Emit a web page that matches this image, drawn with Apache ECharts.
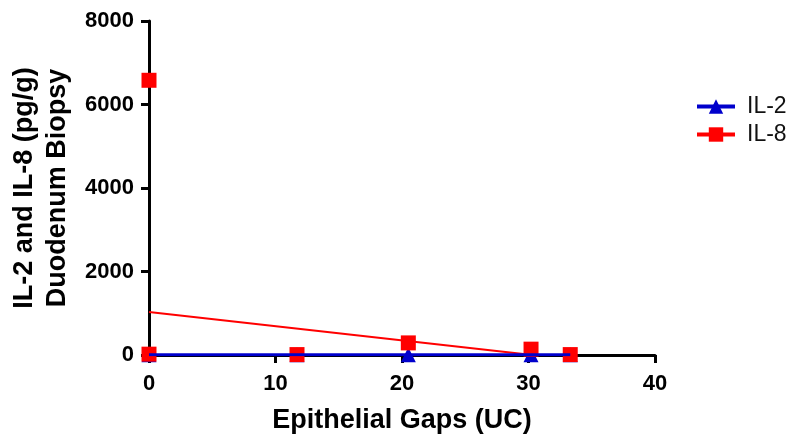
<!DOCTYPE html>
<html><head><meta charset="utf-8">
<script src="https://cdn.jsdelivr.net/npm/echarts@6/dist/echarts.min.js"></script>
<style>html,body{margin:0;padding:0;background:#fff}#c{width:789px;height:442px}</style>
</head><body><div id="c"></div>
<script>
const il2Points = [[0, 5], [11.7, 5], [20.5, 5], [30.2, 5], [33.3, 5]];
const il8Points = [[0, 6580], [0, 20], [11.7, 10], [20.5, 290], [30.2, 140], [33.3, 10]];
const il2Fit = [[0, 5], [33.3, 5]];
const il8Fit = [[0, 1030], [30.3, 0]];
const xTicks = [0, 10, 20, 30, 40];
const yTicks = [0, 2000, 4000, 6000, 8000];

const font = 'Liberation Sans, Arial, sans-serif';
const chart = echarts.init(document.getElementById('c'));
chart.setOption({
  animation: false,
  grid: { left: 148, right: 134, top: 21, bottom: 87 },
  legend: {
    data: ['IL-2', 'IL-8'], orient: 'vertical', left: 690, top: 90,
    itemWidth: 38, itemHeight: 18, itemGap: 5,
    lineStyle: { width: 4 },
    textStyle: { fontFamily: font, fontSize: 23, color: '#111', padding: [0, 0, 0, 7], lineHeight: 23 }
  },
  xAxis: {
    type: 'value', min: xTicks[0], max: xTicks[xTicks.length - 1], interval: 10,
    name: 'Epithelial Gaps (UC)', nameLocation: 'middle', nameGap: 52,
    nameTextStyle: { fontFamily: font, fontSize: 27, fontWeight: 'bold', color: '#000' },
    axisLine: { onZero: false, lineStyle: { color: '#000', width: 3 } },
    axisTick: { length: 8, lineStyle: { width: 3, color: '#000' } },
    axisLabel: { fontFamily: font, fontSize: 22, fontWeight: 'bold', color: '#000', margin: 18,
      formatter: v => String(v) },
    splitLine: { show: false }
  },
  yAxis: {
    type: 'value', min: yTicks[0], max: yTicks[yTicks.length - 1], interval: 2000,
    name: 'IL-2 and IL-8 (pg/g)\nDuodenum Biopsy', nameLocation: 'middle', nameGap: 75, nameRotate: 90,
    nameTextStyle: { fontFamily: font, fontSize: 27, fontWeight: 'bold', color: '#000', lineHeight: 33 },
    axisLine: { show: true, lineStyle: { color: '#000', width: 3 } },
    axisTick: { show: true, length: 8, lineStyle: { width: 3, color: '#000' } },
    axisLabel: { fontFamily: font, fontSize: 22, fontWeight: 'bold', color: '#000', margin: 15,
      formatter: v => String(v) },
    splitLine: { show: false }
  },
  series: [
    { name: 'IL-2', type: 'line', data: il2Fit, symbol: 'triangle', showSymbol: false,
      itemStyle: { color: '#0000CC' }, lineStyle: { color: '#0000CC', width: 3 }, z: 4, silent: true },
    { name: 'IL-8', type: 'line', data: il8Fit, symbol: 'rect', showSymbol: false,
      itemStyle: { color: '#FF0000' }, lineStyle: { color: '#FF0000', width: 2 }, z: 2, silent: true },
    { name: 'IL-8', type: 'scatter', data: il8Points, symbol: 'rect', symbolSize: 15,
      itemStyle: { color: '#FF0000', opacity: 1 }, z: 3 },
    { name: 'IL-2', type: 'scatter', data: il2Points, symbol: 'triangle', symbolSize: 15,
      itemStyle: { color: '#0000CC', opacity: 1 }, z: 2 }
  ]
});
</script></body></html>
